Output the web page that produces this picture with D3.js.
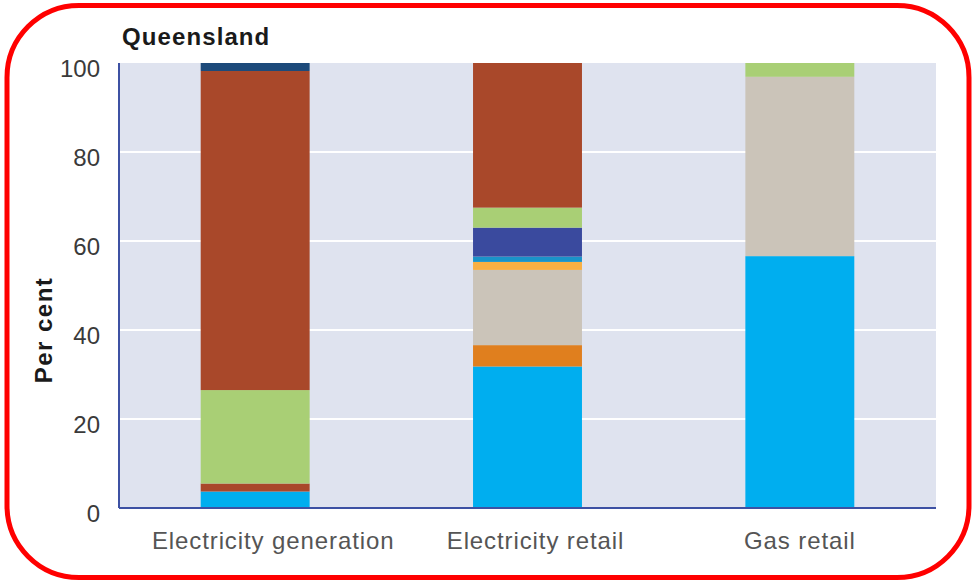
<!DOCTYPE html>
<html lang="en">
  <head>
    <meta charset="UTF-8" />
    <script src="https://d3js.org/d3.v7.min.js"></script>
    <style>
      body {
        margin: 0;
        background: #fff;
      }
      text {
        font-family: "Liberation Sans", Arial, sans-serif;
      }
    </style>
    <title>Queensland</title>
  </head>
  <body>
    <svg id="chart" width="973" height="584"></svg>
    <script>
      // categories and stacked shares (per cent), bottom to top
      const categories = ["Electricity generation", "Electricity retail", "Gas retail"];
      const seriesKeys = ["s1", "s2", "s3", "s4", "s5", "s6", "s7", "s8", "s9", "s10"];
      const seriesColors = ["#00aeef", "#a9482a", "#e07f1e", "#cbc4b9", "#f9b043",
                            "#1a93c8", "#3a4a9e", "#a9cf75", "#a9482a", "#1d4a7a"];
      const s1 = [3.7, 31.8, 56.6];
      const s2 = [1.8, 0, 0];
      const s3 = [0, 4.8, 0];
      const s4 = [0, 16.9, 40.3];
      const s5 = [0, 1.8, 0];
      const s6 = [0, 1.2, 0];
      const s7 = [0, 6.5, 0];
      const s8 = [21.0, 4.5, 3.1];
      const s9 = [71.7, 32.5, 0];
      const s10 = [1.8, 0, 0];
      const yTicks = [0, 20, 40, 60, 80, 100];

      const svg = d3.select("#chart");
      const margin = { top: 63, right: 37, bottom: 76, left: 119 };
      const width = 973 - margin.left - margin.right;
      const height = 584 - margin.top - margin.bottom;

      const rows = categories.map((c, i) => {
        const r = { category: c };
        [s1, s2, s3, s4, s5, s6, s7, s8, s9, s10].forEach((s, k) => {
          r[seriesKeys[k]] = s[i];
        });
        return r;
      });
      const stacked = d3.stack().keys(seriesKeys)(rows);

      // red rounded frame
      svg
        .append("rect")
        .attr("x", 7)
        .attr("y", 5.5)
        .attr("width", 962)
        .attr("height", 572)
        .attr("rx", 72)
        .attr("ry", 72)
        .attr("fill", "#fff")
        .attr("stroke", "#ff0000")
        .attr("stroke-width", 5);

      const g = svg
        .append("g")
        .attr("transform", `translate(${margin.left},${margin.top})`);

      const x = d3
        .scaleBand()
        .domain(categories)
        .range([0, width])
        .paddingInner(0.6)
        .paddingOuter(0.3);
      const y = d3.scaleLinear().domain([0, 100]).range([height, 0]);

      g.append("rect")
        .attr("width", width)
        .attr("height", height)
        .attr("fill", "#dfe3ef");

      // gridlines
      g.selectAll("line.grid")
        .data(yTicks.filter((d) => d > 0 && d < 100))
        .join("line")
        .attr("class", "grid")
        .attr("x1", 0)
        .attr("x2", width)
        .attr("y1", (d) => y(d))
        .attr("y2", (d) => y(d))
        .attr("stroke", "#fff")
        .attr("stroke-width", 2);

      g.selectAll("g.layer")
        .data(stacked)
        .join("g")
        .attr("class", "layer")
        .attr("fill", (d, i) => seriesColors[i])
        .selectAll("rect")
        .data((d) => d.filter((p) => p[1] > p[0]))
        .join("rect")
        .attr("x", (d) => x(d.data.category))
        .attr("width", x.bandwidth())
        .attr("y", (d) => y(d[1]))
        .attr("height", (d) => y(d[0]) - y(d[1]));

      // axes
      const yAxis = g
        .append("g")
        .call(d3.axisLeft(y).tickValues(yTicks).tickSize(0).tickPadding(19));
      yAxis.select(".domain").remove();
      yAxis
        .selectAll("text")
        .attr("font-size", 24)
        .attr("fill", "#3a3a3a")
        .attr("dy", "0.55em");

      const xAxis = g
        .append("g")
        .attr("transform", `translate(0,${height})`)
        .call(d3.axisBottom(x).tickSize(0).tickPadding(24));
      xAxis.select(".domain").remove();
      xAxis
        .selectAll("text")
        .attr("font-size", 24)
        .attr("letter-spacing", 0.9)
        .attr("fill", "#555")
        .attr("dy", "0.71em");
      // first label sits a little right of its bar in the source
      xAxis
        .selectAll(".tick text")
        .attr("x", (d, i) => (i === 0 ? 18 : i === 1 ? 8 : 0));

      g.append("line")
        .attr("x1", 0)
        .attr("x2", 0)
        .attr("y1", 0)
        .attr("y2", height)
        .attr("stroke", "#3d51a3")
        .attr("stroke-width", 2);
      g.append("line")
        .attr("x1", 0)
        .attr("x2", width)
        .attr("y1", height)
        .attr("y2", height)
        .attr("stroke", "#3d51a3")
        .attr("stroke-width", 2);

      svg
        .append("text")
        .attr("x", 122)
        .attr("y", 45)
        .attr("font-size", 24)
        .attr("letter-spacing", 1.1)
        .attr("font-weight", "bold")
        .attr("fill", "#1a1a1a")
        .text("Queensland");

      svg
        .append("text")
        .attr("transform", "translate(52,330) rotate(-90)")
        .attr("text-anchor", "middle")
        .attr("font-size", 24)
        .attr("letter-spacing", 1.5)
        .attr("font-weight", "bold")
        .attr("fill", "#1a1a1a")
        .text("Per cent");
    </script>
  </body>
</html>
